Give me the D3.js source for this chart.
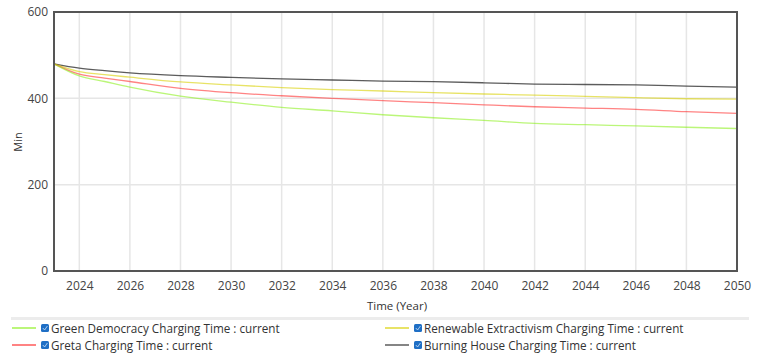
<!DOCTYPE html>
<html><head><meta charset="utf-8">
<script src="https://cdn.jsdelivr.net/npm/d3@7"></script>
<style>
body{margin:0;background:#fff;font-family:"Open Sans",sans-serif;}
svg{display:block}
</style></head>
<body><svg id="c" width="761" height="354"></svg>
<script>
const years = [2023, 2024, 2025, 2026, 2028, 2030, 2032, 2034, 2036, 2038, 2040, 2042, 2044, 2046, 2048, 2050];
const greenDemocracy = [480, 452, 439, 426, 405, 391, 379, 371, 362, 355, 349, 342, 339, 336, 333, 330];
const renewableExtractivism = [480, 462, 455, 449, 438, 431, 425, 420, 417, 413, 410, 407.5, 404.5, 401.5, 399, 398];
const greta = [480, 456, 447, 439, 423, 413, 406, 400, 394.5, 390, 385, 380.5, 377.5, 374.5, 369, 365];
const burningHouse = [480, 470, 464, 459, 452.5, 448.5, 445, 442.5, 440, 438.5, 436, 433, 432, 431, 428.5, 426];
const xTicks = [2024, 2026, 2028, 2030, 2032, 2034, 2036, 2038, 2040, 2042, 2044, 2046, 2048, 2050];
const yTicks = [0, 200, 400, 600];
const seriesNames = ["Green Democracy Charging Time : current", "Renewable Extractivism Charging Time : current",
  "Greta Charging Time : current", "Burning House Charging Time : current"];
const seriesColors = ["#8ef020", "#d8d000", "#ff3030", "#333333"];
const seriesData = [greenDemocracy, renewableExtractivism, greta, burningHouse];

const svg = d3.select("#c");
const L = 54, R = 737, T = 12, B = 271;
const x = d3.scaleLinear().domain([2023, 2050]).range([L, R]);
const y = d3.scaleLinear().domain([0, 600]).range([B, T]);

// grid
svg.append("g").selectAll("line").data(xTicks).join("line")
  .attr("x1", d => x(d)).attr("x2", d => x(d)).attr("y1", T).attr("y2", B)
  .attr("stroke", "#e6e6e6").attr("stroke-width", 1.5);
svg.append("g").selectAll("line").data(yTicks.filter(d => d > 0 && d < 600)).join("line")
  .attr("x1", L).attr("x2", R).attr("y1", d => y(d)).attr("y2", d => y(d))
  .attr("stroke", "#e6e6e6").attr("stroke-width", 1.5);

// lines
const line = d3.line().x((d, i) => x(years[i])).y(d => y(d)).curve(d3.curveMonotoneX);
[3, 1, 2, 0].forEach(k => {
  svg.append("path").attr("d", line(seriesData[k])).attr("fill", "none")
    .attr("stroke", seriesColors[k]).attr("stroke-width", 1.3).attr("stroke-opacity", k === 3 ? 0.8 : 0.6);
});

// frame
svg.append("rect").attr("x", L).attr("y", T).attr("width", R - L).attr("height", B - T)
  .attr("fill", "none").attr("stroke", "#555").attr("stroke-width", 2);

// axes labels
const xAxis = d3.axisBottom(x).tickValues(xTicks).tickFormat(d3.format("d")).tickSize(0).tickPadding(10);
const gx = svg.append("g").attr("transform", `translate(0,${B})`).call(xAxis);
gx.select(".domain").remove();
gx.selectAll("text").attr("fill", "#444").style("font-size", "12px").style("font-family", "Open Sans");

const yAxis = d3.axisLeft(y).tickValues(yTicks).tickSize(0).tickPadding(6);
const gy = svg.append("g").attr("transform", `translate(${L},0)`).call(yAxis);
gy.select(".domain").remove();
gy.selectAll("text").attr("fill", "#444").style("font-size", "12px").style("font-family", "Open Sans");

svg.append("text").attr("x", 397).attr("y", 310).attr("text-anchor", "middle")
  .attr("fill", "#333").style("font-size", "11.5px").text("Time (Year)");
svg.append("text").attr("transform", "translate(22,142) rotate(-90)").attr("text-anchor", "middle")
  .attr("fill", "#333").style("font-size", "11px").text("Min");

// legend separator
svg.append("rect").attr("x", 11).attr("y", 317).attr("width", 738).attr("height", 3).attr("fill", "#ececec");

// legend
const legendPos = [[12, 328], [385, 328], [12, 345], [385, 345]];
seriesNames.forEach((name, i) => {
  const [lx, ly] = legendPos[i];
  const g = svg.append("g").attr("transform", `translate(${lx},${ly})`);
  g.append("line").attr("x1", 0).attr("x2", 24).attr("y1", 0).attr("y2", 0)
    .attr("stroke", seriesColors[i]).attr("stroke-width", 1.2);
  g.append("rect").attr("x", 29).attr("y", -4).attr("width", 8).attr("height", 8).attr("rx", 1.5)
    .attr("fill", "#1f6fc5");
  g.append("path").attr("d", "M30.8,0 L32.6,2 L35.4,-2").attr("fill", "none").attr("stroke", "#cfe3f7").attr("stroke-width", 0.8);
  g.append("text").attr("x", 39).attr("y", 4.5).attr("fill", "#333").style("font-size", "11.7px").text(name);
});
</script></body></html>
